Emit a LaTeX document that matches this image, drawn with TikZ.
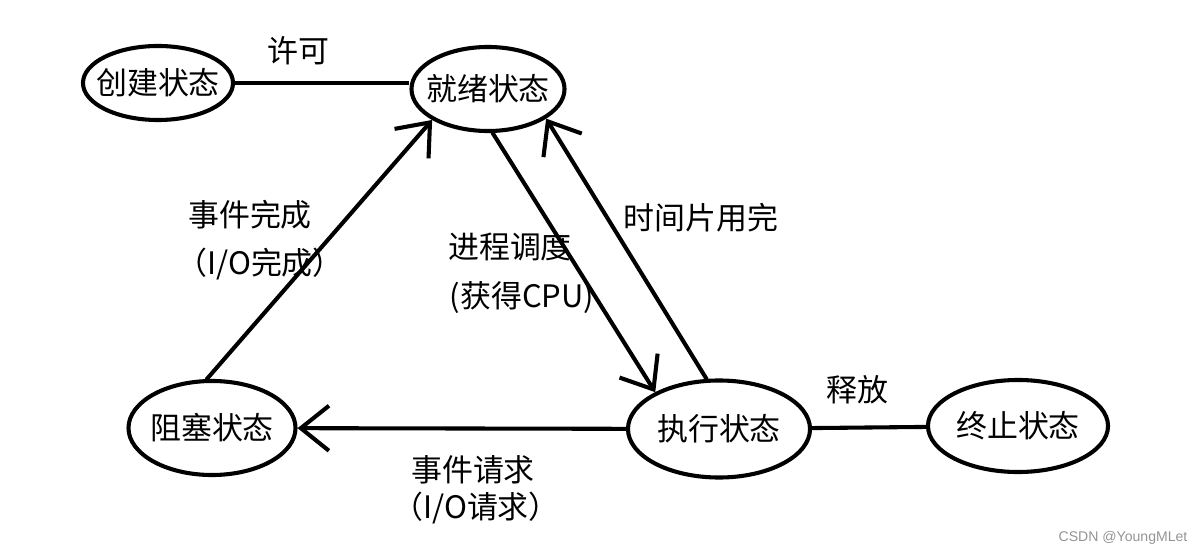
\documentclass[tikz,border=0pt]{standalone}
\usepackage{fontspec}
\newfontfamily\cjk{Noto Sans CJK SC}
\newfontfamily\wmfont{Liberation Sans}
\usetikzlibrary{shapes.geometric,arrows.meta}

\begin{document}
\begin{tikzpicture}[x=0.025cm,y=-0.025cm,
  state/.style={ellipse,draw,line width=2.9pt,inner xsep=-8pt,inner ysep=0pt,font=\cjk\fontsize{22}{26}\selectfont},
  lbl/.style={inner sep=0pt,font=\cjk\fontsize{22}{26}\selectfont},
  trans/.style={line width=2.9pt,line cap=round,-{Straight Barb[length=20pt,width=32pt]}},
  link/.style={line width=2.9pt}]
\useasboundingbox (0,0) rectangle (1202,556);
% states
\node [state,minimum width=3.75cm,minimum height=1.85cm] (create) at (158,83) {创建状态};
\node [state,minimum width=3.825cm,minimum height=2.1cm] (ready) at (488,89) {就绪状态};
\node [state,minimum width=4.175cm,minimum height=2.35cm] (blocked) at (212,428) {阻塞状态};
\node [state,minimum width=4.55cm,minimum height=2.425cm] (exec) at (719,429) {执行状态};
\node [state,minimum width=4.5cm,minimum height=2.3cm] (term) at (1018,426) {终止状态};
% labels
\node [lbl] (permit) at (298,51) {许可};
\node [lbl] (evdone) at (250,215) {事件完成};
\node [lbl] (iodone) at (260,264) {（I/O完成）};
\node [lbl] (sched) at (510,247) {进程调度};
\node [lbl] (getcpu) at (522,298) {(获得CPU)};
\node [lbl] (slice) at (701,218) {时间片用完};
\node [lbl] (release) at (857,390) {释放};
\node [lbl] (evreq) at (473,470) {事件请求};
\node [lbl] (ioreq) at (476,508) {（I/O请求）};
\node [inner sep=0pt,font=\wmfont\fontsize{10}{12}\selectfont,text=black!42] (mark) at (1123,538) {CSDN @YoungMLet};
% transitions
\draw [link] (create) -- (create -| ready.west);
\draw [trans] (blocked.96) -- (ready.209);
\draw [trans] (ready.276) -- (exec.150);
\draw [trans] (exec.104) -- (ready.333);
\draw [trans] (exec) -- (blocked);
\draw [link] (exec) -- (term);
\end{tikzpicture}
\end{document}
